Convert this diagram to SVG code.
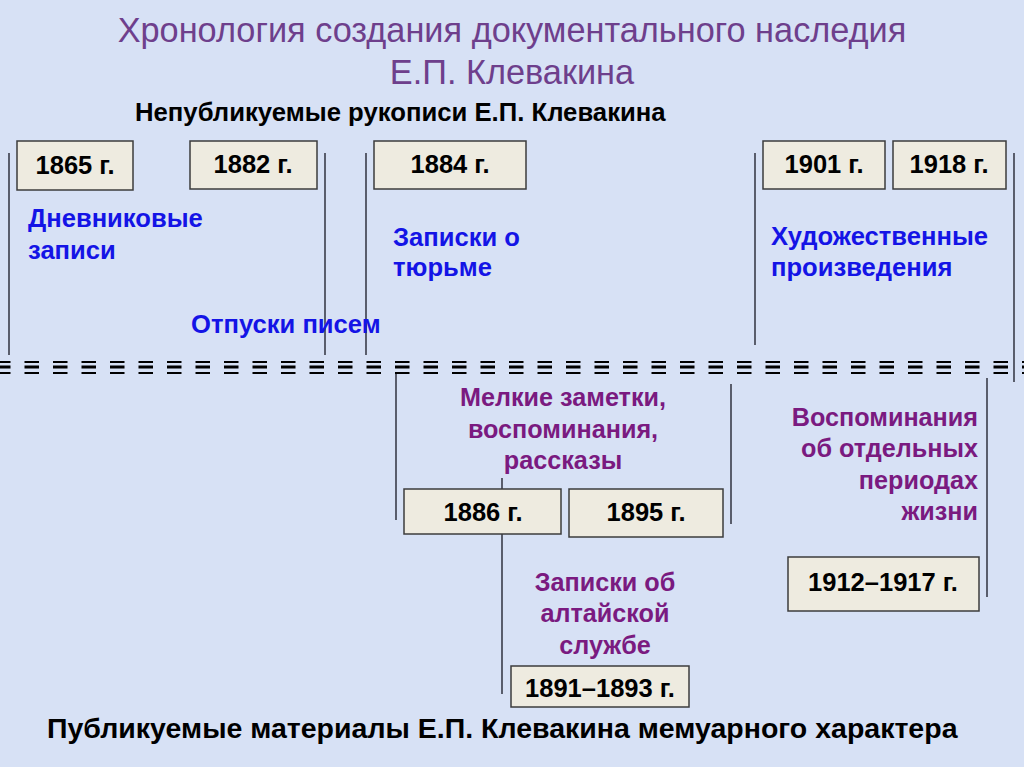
<svg xmlns="http://www.w3.org/2000/svg" width="1024" height="767" viewBox="0 0 1024 767">
<style>
.bg{fill:#D7E1F5}
.box{fill:#EEEBE0;stroke:#3C3C3C;stroke-width:1.5}
.yr{font-family:"Liberation Sans",Arial,sans-serif;font-weight:bold;font-size:25.5px;fill:#000;text-anchor:middle}
.ttl{font-family:"Liberation Sans",Arial,sans-serif;font-size:34.3px;fill:#6E3F8C;text-anchor:middle}
.hd{font-family:"Liberation Sans",Arial,sans-serif;font-weight:bold;font-size:25.7px;fill:#000}
.blue{font-family:"Liberation Sans",Arial,sans-serif;font-weight:bold;font-size:25.6px;fill:#1414E6}
.purp{font-family:"Liberation Sans",Arial,sans-serif;font-weight:bold;font-size:25.2px;fill:#7A1A80}
.vl{stroke:#3A3D4A;stroke-width:1.6;fill:none}
.dash{stroke:#000;fill:none;stroke-dasharray:14.5 14}
</style>
<rect class="bg" x="0" y="0" width="1024" height="767"/>
<g id="title">
<text class="ttl" x="512" y="42">Хронология создания документального наследия</text>
<text class="ttl" x="512" y="84">Е.П. Клевакина</text>
</g>
<text class="hd" x="135" y="121">Непубликуемые рукописи Е.П. Клевакина</text>
<text class="hd" x="47" y="738" style="font-size:28.5px">Публикуемые материалы Е.П. Клевакина мемуарного характера</text>
<g id="connectors">
<line class="vl" x1="9" y1="153" x2="9" y2="355"/>
<line class="vl" x1="325" y1="153" x2="325" y2="355"/>
<line class="vl" x1="366" y1="153" x2="366" y2="355"/>
<line class="vl" x1="755" y1="153" x2="755" y2="345"/>
<line class="vl" x1="1014" y1="153" x2="1014" y2="382"/>
<line class="vl" x1="396" y1="374" x2="396" y2="520"/>
<line class="vl" x1="731" y1="384" x2="731" y2="524"/>
<line class="vl" x1="987" y1="378" x2="987" y2="597"/>
<line class="vl" x1="502" y1="478" x2="502" y2="694"/>
</g>
<g id="timeline">
<line class="dash" x1="-4" y1="362" x2="1024" y2="362" stroke-width="2"/>
<line class="dash" x1="-4" y1="367" x2="1024" y2="367" stroke-width="3.2"/>
<line class="dash" x1="-4" y1="373" x2="1024" y2="373" stroke-width="2"/>
</g>
<g id="y1865"><rect class="box" x="17" y="141" width="116" height="49"/><text class="yr" x="75" y="174">1865 г.</text></g>
<g id="y1882"><rect class="box" x="190" y="141" width="127" height="48"/><text class="yr" x="253" y="173">1882 г.</text></g>
<g id="y1884"><rect class="box" x="374" y="141" width="152" height="48"/><text class="yr" x="450" y="173">1884 г.</text></g>
<g id="y1901"><rect class="box" x="763" y="141" width="122" height="48"/><text class="yr" x="824" y="173">1901 г.</text></g>
<g id="y1918"><rect class="box" x="893" y="141" width="113" height="48"/><text class="yr" x="949" y="173">1918 г.</text></g>
<g id="y1886"><rect class="box" x="404" y="489" width="157" height="45"/><text class="yr" x="483" y="521">1886 г.</text></g>
<g id="y1895"><rect class="box" x="569" y="489" width="154" height="48"/><text class="yr" x="646" y="521">1895 г.</text></g>
<g id="y1912"><rect class="box" x="788" y="557" width="191" height="54"/><text class="yr" x="883" y="591">1912–1917 г.</text></g>
<g id="y1891"><rect class="box" x="511" y="666" width="178" height="41"/><text class="yr" x="600" y="697">1891–1893 г.</text></g>
<g id="diary"><text class="blue" x="28" y="227">Дневниковые</text><text class="blue" x="28" y="259">записи</text></g>
<g id="letters"><text class="blue" x="191" y="333">Отпуски писем</text></g>
<g id="prison"><text class="blue" x="393" y="246">Записки о</text><text class="blue" x="393" y="276">тюрьме</text></g>
<g id="art"><text class="blue" x="771" y="245">Художественные</text><text class="blue" x="771" y="276">произведения</text></g>
<g id="notes"><text class="purp" text-anchor="middle" x="563" y="406">Мелкие заметки,</text><text class="purp" text-anchor="middle" x="563" y="438">воспоминания,</text><text class="purp" text-anchor="middle" x="563" y="469">рассказы</text></g>
<g id="memoirs"><text class="purp" text-anchor="end" x="978" y="426">Воспоминания</text><text class="purp" text-anchor="end" x="978" y="457">об отдельных</text><text class="purp" text-anchor="end" x="978" y="489">периодах</text><text class="purp" text-anchor="end" x="978" y="520">жизни</text></g>
<g id="altai"><text class="purp" text-anchor="middle" x="605" y="591">Записки об</text><text class="purp" text-anchor="middle" x="605" y="622">алтайской</text><text class="purp" text-anchor="middle" x="605" y="654">службе</text></g>
</svg>
